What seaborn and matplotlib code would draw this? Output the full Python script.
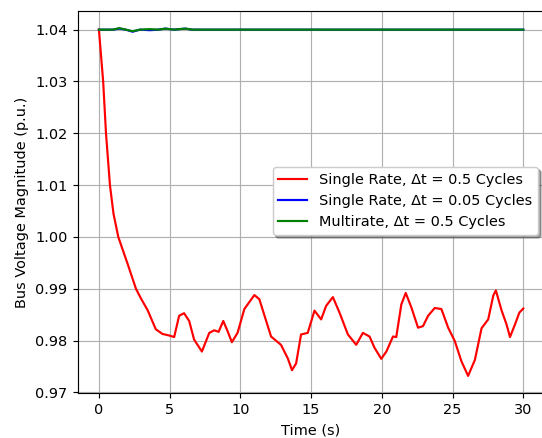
import matplotlib
matplotlib.use("Agg")
import matplotlib.pyplot as plt
import seaborn as sns

# single rate, dt = 0.5 cycles
t_red = [0, 0.15, 0.3, 0.5, 0.78, 1.03, 1.37, 2.03, 2.62, 3.0, 3.44, 4.02, 4.49, 4.96,
         5.32, 5.67, 6.02, 6.38, 6.73, 7.28, 7.8, 8.15, 8.46, 8.79, 9.1, 9.4, 9.8, 10.28,
         10.99, 11.34, 12.17, 12.87, 13.35, 13.65, 13.94, 14.29, 14.76, 15.24, 15.71, 16.06,
         16.54, 17.01, 17.6, 18.19, 18.66, 19.13, 19.49, 19.96, 20.32, 20.79, 21.02, 21.38,
         21.69, 22.09, 22.56, 22.91, 23.27, 23.74, 24.21, 24.69, 25.16, 25.63, 26.1, 26.58,
         27.05, 27.52, 27.88, 28.06, 28.47, 28.82, 29.06, 29.41, 29.72, 30.0]
v_red = [1.04, 1.035, 1.03, 1.02, 1.01, 1.0045, 1.0, 0.9948, 0.990, 0.988, 0.9859,
         0.9822, 0.9813, 0.981, 0.9807, 0.9848, 0.9853, 0.9838, 0.9802, 0.9779, 0.9815,
         0.982, 0.9817, 0.9838, 0.9818, 0.9797, 0.9815, 0.9861, 0.9888, 0.988, 0.9808,
         0.9792, 0.9766, 0.9743, 0.9756, 0.9812, 0.9815, 0.9858, 0.9841, 0.9867, 0.9884,
         0.9854, 0.9812, 0.9792, 0.9815, 0.9808, 0.9786, 0.9765, 0.9779, 0.9808, 0.9807,
         0.987, 0.9892, 0.9864, 0.9825, 0.9828, 0.9848, 0.9863, 0.9861, 0.9825, 0.9799,
         0.976, 0.9732, 0.9763, 0.9824, 0.9841, 0.9887, 0.9897, 0.9858, 0.9831, 0.9807,
         0.9831, 0.9854, 0.9862]

# single rate, dt = 0.05 cycles
t_blue = [0, 1.0, 1.44, 1.9, 2.38, 2.9, 3.6, 4.2, 4.7, 5.3, 6.1, 6.6, 30]
v_blue = [1.04, 1.04, 1.0402, 1.04, 1.0396, 1.04, 1.0399, 1.04, 1.0402, 1.04, 1.0402, 1.04, 1.04]

# multirate, dt = 0.5 cycles
t_green = [0, 1.0, 1.44, 1.9, 2.38, 2.9, 3.6, 4.2, 4.7, 5.3, 6.1, 6.6, 30]
v_green = [1.04, 1.04, 1.0403, 1.04, 1.0397, 1.04, 1.0401, 1.04, 1.0402, 1.04, 1.0402, 1.04, 1.04]

dpi = 104
fig = plt.figure(figsize=(542 / dpi, 438 / dpi), dpi=dpi)
ax = fig.add_axes([77.7 / 542, (438 - 393.3) / 438, 466.8 / 542, 382.6 / 438])

sns.lineplot(ax=ax, x=t_red, y=v_red, color="red", lw=1.5, label="Single Rate, Δt = 0.5 Cycles")
sns.lineplot(ax=ax, x=t_blue, y=v_blue, color="blue", lw=1.5, label="Single Rate, Δt = 0.05 Cycles")
sns.lineplot(ax=ax, x=t_green, y=v_green, color="green", lw=1.5, label="Multirate, Δt = 0.5 Cycles")

ax.set_xlabel("Time (s)")
ax.set_ylabel("Bus Voltage Magnitude (p.u.)")
ax.set_xticks([0, 5, 10, 15, 20, 25, 30])
ax.set_yticks([0.97, 0.98, 0.99, 1.00, 1.01, 1.02, 1.03, 1.04])
ax.set_yticklabels(["0.97", "0.98", "0.99", "1.00", "1.01", "1.02", "1.03", "1.04"])
ax.spines["right"].set_visible(False)
ax.grid(True)
ax.legend(loc="upper right", bbox_to_anchor=(0.986, 0.5915), borderaxespad=0, shadow=True)

fig.savefig("out.png", dpi=dpi)
